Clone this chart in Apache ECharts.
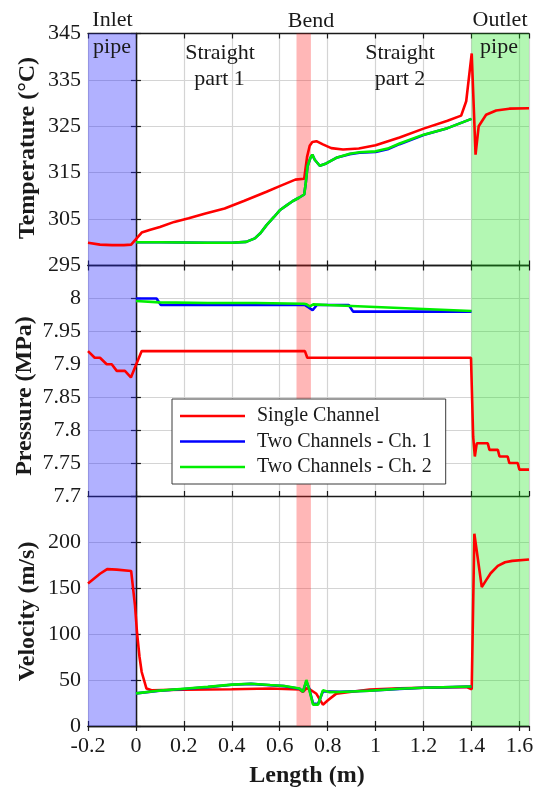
<!DOCTYPE html>
<html>
<head>
<meta charset="utf-8">
<script src="https://cdn.jsdelivr.net/npm/echarts@6/dist/echarts.min.js"></script>
<style>
  html, body { margin: 0; padding: 0; background: #fff; }
  #chart { width: 533px; height: 791px; }
</style>
</head>
<body>
<div id="chart"></div>
<script>
// ---- Series names ----
const seriesNames = ['Single Channel', 'Two Channels - Ch. 1', 'Two Channels - Ch. 2'];

// ---- Pipe sections along the length (m) ----
const inletSection = [-0.2, 0];
const bendSection = [0.67, 0.73];
const outletSection = [1.4, 1.64];

// ---- Axis ranges ----
const lengthRange = [-0.2, 1.64, 0.2];
const tempRange = [295, 345, 10];
const pressRange = [7.7, 8.05, 0.05];
const velRange = [0, 250, 50];

// ---- Temperature (°C) ----
const tempSingleX = [-0.2, -0.15, -0.1, -0.05, -0.02, 0.024, 0.06, 0.1, 0.16, 0.22, 0.29, 0.37, 0.45, 0.545, 0.6, 0.665, 0.702, 0.714, 0.725, 0.736, 0.753, 0.78, 0.815, 0.864, 0.93, 1.0, 1.1, 1.2, 1.3, 1.357, 1.378, 1.401, 1.417, 1.43, 1.461, 1.503, 1.558, 1.64];
const tempSingle = [299.9, 299.5, 299.4, 299.4, 299.5, 302.1, 302.7, 303.3, 304.4, 305.2, 306.2, 307.3, 308.9, 310.9, 312.1, 313.5, 313.7, 318.4, 320.8, 321.6, 321.8, 321.1, 320.3, 320.0, 320.2, 320.9, 322.6, 324.5, 326.2, 327.3, 330.4, 340.7, 318.9, 325.0, 327.5, 328.4, 328.8, 328.9];

const tempTwoX = [0, 0.1, 0.2, 0.3, 0.4, 0.46, 0.496, 0.52, 0.545, 0.575, 0.6, 0.63, 0.655, 0.68, 0.702, 0.708, 0.716, 0.728, 0.736, 0.746, 0.767, 0.794, 0.836, 0.892, 0.933, 1.0, 1.05, 1.1, 1.2, 1.3, 1.4];
const tempCh1 = [300.0, 300.0, 299.95, 299.9, 299.9, 300.1, 300.85, 302.0, 303.7, 305.4, 306.9, 308.0, 308.9, 309.6, 310.3, 312.5, 316.4, 318.2, 318.9, 317.8, 316.5, 317.0, 318.2, 319.0, 319.3, 319.45, 320.05, 321.15, 323.1, 324.6, 326.6];
const tempCh2 = [300.0, 300.0, 299.95, 299.9, 299.9, 300.1, 300.85, 302.0, 303.7, 305.4, 306.9, 308.0, 308.9, 309.6, 310.3, 312.5, 316.4, 318.2, 318.9, 317.8, 316.5, 317.0, 318.2, 319.1, 319.4, 319.6, 320.2, 321.3, 323.2, 324.6, 326.6];

// ---- Pressure (MPa) ----
const pressSingleX = [-0.2, -0.172, -0.15, -0.122, -0.101, -0.08, -0.046, -0.021, 0.024, 0.705, 0.715, 1.398, 1.407, 1.414, 1.422, 1.468, 1.475, 1.51, 1.517, 1.551, 1.558, 1.593, 1.6, 1.64];
const pressSingle = [7.92, 7.91, 7.91, 7.90, 7.90, 7.89, 7.89, 7.88, 7.92, 7.92, 7.91, 7.91, 7.79, 7.76, 7.78, 7.78, 7.77, 7.77, 7.76, 7.76, 7.75, 7.75, 7.74, 7.74];

const pressCh1X = [0, 0.086, 0.104, 0.704, 0.722, 0.737, 0.755, 0.888, 0.906, 1.4];
const pressCh1 = [8.00, 8.00, 7.99, 7.99, 7.986, 7.982, 7.99, 7.99, 7.98, 7.98];

const pressCh2X = [0, 0.1, 0.3, 0.5, 0.7, 0.712, 0.725, 0.74, 0.8, 1.0, 1.2, 1.4];
const pressCh2 = [7.996, 7.994, 7.993, 7.993, 7.992, 7.991, 7.988, 7.991, 7.990, 7.987, 7.984, 7.981];

// ---- Velocity (m/s) ----
const velSingleX = [-0.2, -0.15, -0.12, -0.08, -0.02, -0.004, 0.005, 0.015, 0.024, 0.044, 0.065, 0.2, 0.4, 0.56, 0.683, 0.697, 0.711, 0.725, 0.753, 0.78, 0.801, 0.836, 0.892, 0.975, 1.1, 1.2, 1.38, 1.401, 1.412, 1.443, 1.46, 1.48, 1.51, 1.54, 1.57, 1.64];
const velSingle = [155, 165.5, 170.5, 170, 168.5, 131, 100, 75, 58.7, 40.7, 38.8, 39.5, 40, 40.7, 39.6, 37, 41, 40, 35, 23.2, 27.9, 35.2, 37, 39.6, 41, 41.5, 42.4, 40, 209, 151, 158, 166, 174, 178, 179.5, 181];

const velTwoX = [0, 0.1, 0.2, 0.3, 0.4, 0.48, 0.56, 0.62, 0.683, 0.697, 0.711, 0.722, 0.739, 0.76, 0.78, 0.808, 0.85, 0.975, 1.1, 1.2, 1.4];
const velCh1 = [35.5, 38.3, 40.3, 42.3, 44.8, 45.8, 44.3, 43.3, 40.5, 37.5, 48.5, 41.5, 24.5, 24.0, 37.5, 37.5, 37.2, 38.3, 40.4, 41.5, 42.8];
const velCh2 = [35.5, 38.5, 40.5, 42.5, 45.0, 46.0, 44.5, 43.5, 40.7, 37.0, 50.0, 40.7, 23.2, 23.2, 38.8, 36.8, 37.0, 38.3, 40.5, 41.5, 43.0];

// ---- Drawing ----
const FONT = 'Liberation Serif';
const INK = '#1a1a1a';
const COLORS = ['#ff0000', '#0000ff', '#00ee00'];

function pairs(xs, ys) { return xs.map((x, i) => [x, ys[i]]); }

const grids = [
  { left: 88, right: 4, top: 33.5, height: 232, outerBoundsMode: 'none', containLabel: false },
  { left: 88, right: 4, top: 265.5, height: 230.5, outerBoundsMode: 'none', containLabel: false },
  { left: 88, right: 4, top: 496, height: 230, outerBoundsMode: 'none', containLabel: false }
];

const axisLine = { show: true, lineStyle: { color: INK, width: 1.3 } };
const tick = { show: true, inside: true, length: 5, lineStyle: { color: INK, width: 1.2 } };
const split = { show: true, lineStyle: { color: '#d4d4d4', width: 1.2 } };
const labelStyle = { fontFamily: FONT, fontSize: 22, color: INK };

const xAxes = [];
const yAxes = [];
const yRanges = [tempRange, pressRange, velRange];

for (let i = 0; i < 3; i++) {
  xAxes.push({
    type: 'value', gridIndex: i, position: 'bottom',
    min: lengthRange[0], max: lengthRange[1], interval: lengthRange[2],
    axisLine, axisTick: tick, splitLine: split,
    axisLabel: Object.assign({ show: i === 2, margin: 9, showMaxLabel: false }, labelStyle)
  });
}
for (let i = 0; i < 3; i++) {
  xAxes.push({
    type: 'value', gridIndex: i, position: 'top',
    min: lengthRange[0], max: lengthRange[1], interval: lengthRange[2],
    axisLine, axisTick: tick, splitLine: { show: false }, axisLabel: { show: false }
  });
}
for (let i = 0; i < 3; i++) {
  const r = yRanges[i];
  yAxes.push({
    type: 'value', gridIndex: i, position: 'left',
    min: r[0], max: r[1], interval: r[2],
    axisLine, axisTick: tick, splitLine: split,
    axisLabel: Object.assign({ margin: 7, showMaxLabel: i === 0 }, labelStyle)
  });
}
for (let i = 0; i < 3; i++) {
  const r = yRanges[i];
  yAxes.push({
    type: 'value', gridIndex: i, position: 'right',
    min: r[0], max: r[1], interval: r[2],
    axisLine, axisTick: tick, splitLine: { show: false }, axisLabel: { show: false }
  });
}

const series = [];

// shaded pipe sections in every panel
for (let i = 0; i < 3; i++) {
  series.push({
    type: 'line', xAxisIndex: i, yAxisIndex: i, data: [], z: 1, silent: true,
    markArea: {
      silent: true,
      data: [
        [{ xAxis: inletSection[0], itemStyle: { color: 'rgba(40,40,255,0.36)' } }, { xAxis: inletSection[1] }],
        [{ xAxis: bendSection[0], itemStyle: { color: 'rgba(255,30,30,0.32)' } }, { xAxis: bendSection[1] }],
        [{ xAxis: outletSection[0], itemStyle: { color: 'rgba(20,230,20,0.32)' } }, { xAxis: outletSection[1] }]
      ]
    }
  });
}

const panelData = [
  [pairs(tempSingleX, tempSingle), pairs(tempTwoX, tempCh1), pairs(tempTwoX, tempCh2)],
  [pairs(pressSingleX, pressSingle), pairs(pressCh1X, pressCh1), pairs(pressCh2X, pressCh2)],
  [pairs(velSingleX, velSingle), pairs(velTwoX, velCh1), pairs(velTwoX, velCh2)]
];

for (let i = 0; i < 3; i++) {
  for (let s = 0; s < 3; s++) {
    series.push({
      name: seriesNames[s], type: 'line', xAxisIndex: i, yAxisIndex: i,
      data: panelData[i][s], symbol: 'none', z: 3 + s,
      lineStyle: { color: COLORS[s], width: 2.6 },
      itemStyle: { color: COLORS[s] }
    });
  }
}

function txt(text, x, y, size, bold, rot) {
  return {
    type: 'text', x, y, rotation: rot || 0, z: 100, silent: true,
    style: {
      text, fill: INK, fontFamily: FONT, fontSize: size,
      fontWeight: bold ? 'bold' : 'normal',
      align: 'center', verticalAlign: 'middle'
    }
  };
}

const option = {
  animation: false,
  backgroundColor: '#fff',
  grid: grids,
  xAxis: xAxes,
  yAxis: yAxes,
  series,
  legend: {
    data: seriesNames, orient: 'vertical', left: 172, top: 399,
    icon: 'rect',
    padding: [7, 14, 7, 8], itemWidth: 65, itemHeight: 2.6, itemGap: 5.5,
    backgroundColor: '#fff', borderColor: '#3a3a3a', borderWidth: 1,
    selectedMode: false, z: 20,
    textStyle: { fontFamily: FONT, fontSize: 20, lineHeight: 20, color: INK, padding: [0, 0, 0, 7] }
  },
  graphic: [
    txt('Inlet', 112.5, 20, 22),
    txt('pipe', 112, 47.5, 22),
    txt('Straight', 220, 53.5, 22),
    txt('part 1', 219.5, 79.5, 22),
    txt('Bend', 311, 21, 22),
    txt('Straight', 400, 53.5, 22),
    txt('part 2', 400, 79.5, 22),
    txt('Outlet', 500, 20, 22),
    txt('pipe', 499, 47.5, 22),
    txt('Temperature (°C)', 28, 148, 24, true, Math.PI / 2),
    txt('Pressure (MPa)', 25, 396, 24, true, Math.PI / 2),
    txt('Velocity (m/s)', 28, 611.5, 24, true, Math.PI / 2),
    txt('Length (m)', 307, 776, 24, true)
  ]
};

const chart = echarts.init(document.getElementById('chart'), null, { renderer: 'canvas' });
chart.setOption(option);
</script>
</body>
</html>
